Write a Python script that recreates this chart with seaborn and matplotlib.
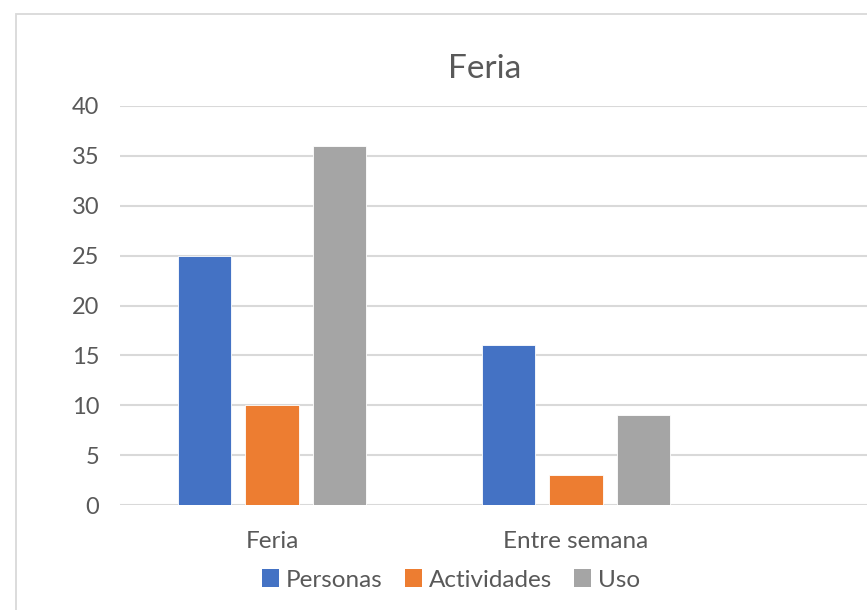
import matplotlib
matplotlib.use("Agg")
import matplotlib.pyplot as plt
import seaborn as sns
import pandas as pd
from matplotlib.patches import Rectangle, Patch

# Data
categorias = ["Feria", "Entre semana"]
personas = [25, 16]
actividades = [10, 3]
uso = [36, 9]
series = ["Personas", "Actividades", "Uso"]
colores = ["#4472C4", "#ED7D31", "#A5A5A5"]
yticks = [0, 5, 10, 15, 20, 25, 30, 35, 40]

df = pd.DataFrame({
    "categoria": categorias * 3,
    "serie": [s for s in series for _ in categorias],
    "valor": personas + actividades + uso,
})

sns.set_theme(style="white")
plt.rcParams["font.family"] = ["Lato", "DejaVu Sans"]
texto = "#595959"
grid = "#D9D9D9"

W, H = 867, 610
fig = plt.figure(figsize=(W / 100, H / 100), dpi=100)
fig.patch.set_facecolor("white")

# chart frame
fig.patches.append(Rectangle((16 / W, -0.1), 2.0, (H - 14) / H + 0.1,
                             transform=fig.transFigure, fill=False,
                             edgecolor="#D9D9D9", linewidth=1.3))

ax = fig.add_axes([120 / W, (H - 505) / H, 912 / W, 399 / H])
sns.barplot(data=df, x="categoria", y="valor", hue="serie",
            order=categorias, hue_order=series, palette=colores,
            width=0.666, gap=0.21, saturation=1, ax=ax,
            linewidth=0.6, edgecolor="white", legend=False)

ax.set_xlim(-0.5, 2.5)
ax.set_ylim(0, 40)
ax.set_yticks(yticks)
ax.set_yticklabels([str(v) for v in yticks])
ax.yaxis.grid(True, color=grid, linewidth=1.5)
ax.set_axisbelow(True)
for s in ax.spines.values():
    s.set_visible(False)
ax.tick_params(axis="y", length=0, pad=15, labelsize=17, labelcolor=texto)
ax.tick_params(axis="x", length=0, pad=19, labelsize=17.5, labelcolor=texto)
ax.set_xlabel("")
ax.set_ylabel("")

fig.text(485 / W, 1 - 69 / H, "Feria", ha="center", va="center",
         fontsize=24, color=texto)

handles = [Patch(facecolor=c, edgecolor="none") for c in colores]
fig.legend(handles, series, loc="center", bbox_to_anchor=(451 / W, 1 - 580 / H),
           ncol=3, frameon=False, fontsize=17.5, labelcolor=texto,
           handlelength=0.7, handleheight=0.7, handletextpad=0.3,
           columnspacing=0.9)

fig.savefig("out.png", dpi=100, facecolor="white")
